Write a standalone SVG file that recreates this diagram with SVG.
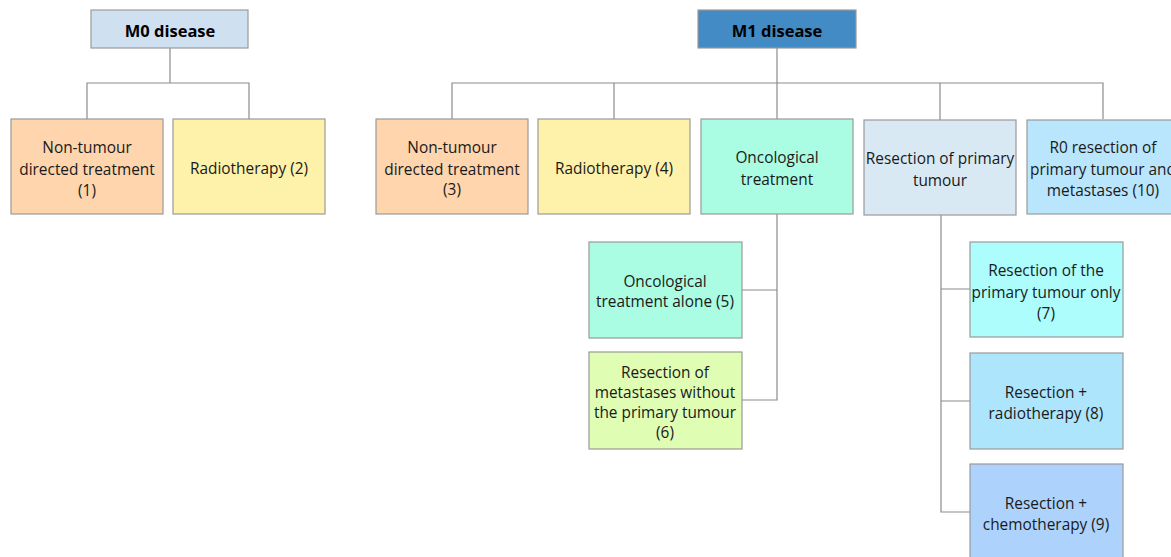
<svg xmlns="http://www.w3.org/2000/svg" width="1171" height="557" viewBox="0 0 1171 557">
<style>
.box{stroke:#9a9a9a;stroke-width:1.2}
.t{font-family:"Open Sans","Liberation Sans",sans-serif;font-size:15.4px;fill:#1a1a1a;text-anchor:middle;dominant-baseline:central}
.h{font-family:"Open Sans","Liberation Sans",sans-serif;font-size:16.5px;font-weight:bold;fill:#000;text-anchor:middle;dominant-baseline:central}
.c{fill:none;stroke:#8c8c8c;stroke-width:1.2}
</style>
<rect width="1171" height="557" fill="#fff"/>
<g id="connectors">
<path class="c" d="M170 48V83M87 119V83H249V119"/>
<path class="c" d="M777 48V119M452 119V83H1103V119M614 83V119M940 83V120"/>
<path class="c" d="M777 214V400H741M741 290H777"/>
<path class="c" d="M941 215V512H970M941 289H970M941 401H970"/>
</g>
<g id="m0">
<rect class="box" x="91" y="10" width="157" height="38" fill="#cfe0f1"/>
<text class="h" x="170" y="30">M0 disease</text>
</g>
<g id="n1">
<rect class="box" x="11" y="119" width="152" height="95" fill="#fed5ad"/>
<text class="t" x="87" y="147">Non-tumour</text>
<text class="t" x="87" y="169">directed treatment</text>
<text class="t" x="87" y="190">(1)</text>
</g>
<g id="n2">
<rect class="box" x="173" y="119" width="152" height="95" fill="#fef2aa"/>
<text class="t" x="249" y="168">Radiotherapy (2)</text>
</g>
<g id="m1">
<rect class="box" x="698" y="10" width="158" height="38" fill="#438bc4"/>
<text class="h" x="777" y="30">M1 disease</text>
</g>
<g id="n3">
<rect class="box" x="376" y="119" width="152" height="95" fill="#fed5ad"/>
<text class="t" x="452" y="147">Non-tumour</text>
<text class="t" x="452" y="169">directed treatment</text>
<text class="t" x="452" y="189">(3)</text>
</g>
<g id="n4">
<rect class="box" x="538" y="119" width="152" height="95" fill="#fef2aa"/>
<text class="t" x="614" y="168">Radiotherapy (4)</text>
</g>
<g id="onc">
<rect class="box" x="701" y="119" width="152" height="95" fill="#aafce2"/>
<text class="t" x="777" y="157">Oncological</text>
<text class="t" x="777" y="179">treatment</text>
</g>
<g id="rpt">
<rect class="box" x="864" y="120" width="152" height="95" fill="#d9e9f4"/>
<text class="t" x="940" y="158">Resection of primary</text>
<text class="t" x="940" y="180">tumour</text>
</g>
<g id="n10">
<rect class="box" x="1027" y="120" width="152" height="94" fill="#b9e5fd"/>
<text class="t" x="1103" y="147">R0 resection of</text>
<text class="t" x="1103" y="169">primary tumour and</text>
<text class="t" x="1103" y="190">metastases (10)</text>
</g>
<g id="n5">
<rect class="box" x="589" y="242" width="153" height="96" fill="#aafce2"/>
<text class="t" x="665" y="281">Oncological</text>
<text class="t" x="665" y="301">treatment alone (5)</text>
</g>
<g id="n6">
<rect class="box" x="589" y="352" width="153" height="97" fill="#e0fdb4"/>
<text class="t" x="665" y="372">Resection of</text>
<text class="t" x="665" y="392">metastases without</text>
<text class="t" x="665" y="412">the primary tumour</text>
<text class="t" x="665" y="432">(6)</text>
</g>
<g id="n7">
<rect class="box" x="970" y="242" width="153" height="95" fill="#adfdfd"/>
<text class="t" x="1046" y="270">Resection of the</text>
<text class="t" x="1046" y="292">primary tumour only</text>
<text class="t" x="1046" y="313">(7)</text>
</g>
<g id="n8">
<rect class="box" x="970" y="353" width="153" height="96" fill="#ade5fd"/>
<text class="t" x="1046" y="392">Resection +</text>
<text class="t" x="1046" y="413">radiotherapy (8)</text>
</g>
<g id="n9">
<rect class="box" x="970" y="464" width="153" height="100" fill="#add3fd"/>
<text class="t" x="1046" y="503">Resection +</text>
<text class="t" x="1046" y="524">chemotherapy (9)</text>
</g>
</svg>
